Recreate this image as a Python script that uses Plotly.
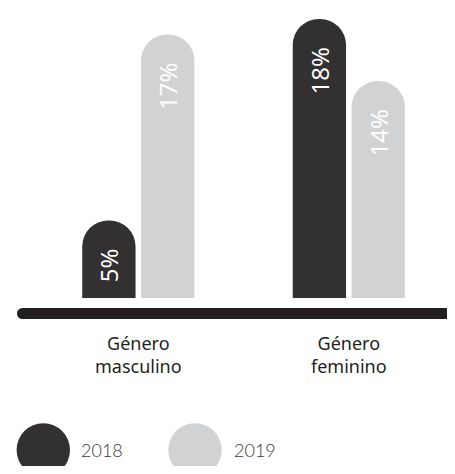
import plotly.graph_objects as go

# ---- data ----
categories = ["Género masculino", "Género feminino"]
category_labels = ["Género<br>masculino", "Género<br>feminino"]
series_names = ["2018", "2019"]
values_2018 = [5, 18]
values_2019 = [17, 14]
label_2018 = ["5%", "18%"]
label_2019 = ["17%", "14%"]

# ---- style ----
DARK = "#323031"
LIGHT = "#d1d2d4"
AXIS = "#231f20"
TEXT = "#231f20"
FONT = "Noto Sans"

OFF = 8            # page body margin compensation
W, H = 455 - OFF, 474 - 2 * OFF
PLOT_H = 298 - OFF  # plot area height in px (margin top 0)

def px_x(px):
    return (px - OFF) / W

def px_y(py):
    return (PLOT_H - (py - OFF)) / PLOT_H

fig = go.Figure()
for vals, labels, name, col in [(values_2018, label_2018, series_names[0], DARK),
                                (values_2019, label_2019, series_names[1], LIGHT)]:
    fig.add_trace(go.Bar(
        x=categories, y=vals, name=name,
        marker=dict(color=col, cornerradius="50%", line=dict(width=0)),
        text=labels, textposition="inside", insidetextanchor="end",
        texttemplate="%{text}&nbsp;&nbsp;&nbsp;",
        textangle=-90, textfont=dict(color="white", size=24, family=FONT),
        showlegend=False, hoverinfo="skip",
    ))

shapes = []
# baseline with rounded left end
shapes.append(dict(type="rect", xref="paper", yref="paper",
                   x0=px_x(22.5), x1=1.05,
                   ysizemode="pixel", yanchor=0, y0=-21, y1=-10,
                   fillcolor=AXIS, line=dict(width=0), layer="above"))
shapes.append(dict(type="circle", xref="paper", yref="paper",
                   xsizemode="pixel", xanchor=px_x(22.5), x0=-5.5, x1=5.5,
                   ysizemode="pixel", yanchor=0, y0=-21, y1=-10,
                   fillcolor=AXIS, line=dict(width=0), layer="above"))

# custom legend
annotations = []
legend_items = [(series_names[0], DARK, 43.3, 79), (series_names[1], LIGHT, 195, 232)]
for name, col, cx, tx in legend_items:
    shapes.append(dict(type="circle", xref="paper", yref="paper",
                       xsizemode="pixel", xanchor=px_x(cx), x0=-26.7, x1=26.7,
                       ysizemode="pixel", yanchor=px_y(450), y0=-26.7, y1=26.7,
                       fillcolor=col, line=dict(width=0)))
    annotations.append(dict(text=name, xref="paper", yref="paper",
                            x=px_x(tx), y=px_y(450), xanchor="left", yanchor="middle",
                            showarrow=False,
                            font=dict(family="Lato", size=18, color="#3a3a3a", weight=300)))

# category labels
for cat, lab in zip(categories, category_labels):
    annotations.append(dict(text=lab, xref="x", yref="paper",
                            x=cat, y=px_y(354), xanchor="center", yanchor="middle",
                            showarrow=False,
                            font=dict(family=FONT, size=18, color=TEXT)))

fig.update_layout(
    width=W, height=H, autosize=False,
    margin=dict(l=0, r=0, t=0, b=H - PLOT_H, pad=0),
    paper_bgcolor="white", plot_bgcolor="white",
    barmode="group", bargap=0.441, bargroupgap=0.094,
    xaxis=dict(range=[-0.619, 1.5045], showticklabels=False, showgrid=False,
               zeroline=False, showline=False, ticks="", fixedrange=True),
    yaxis=dict(range=[0, PLOT_H / 15.5], visible=False, showgrid=False, zeroline=False,
               fixedrange=True),
    uniformtext=dict(mode=False),
    shapes=shapes,
    annotations=annotations,
)

fig.write_html("out.html")
